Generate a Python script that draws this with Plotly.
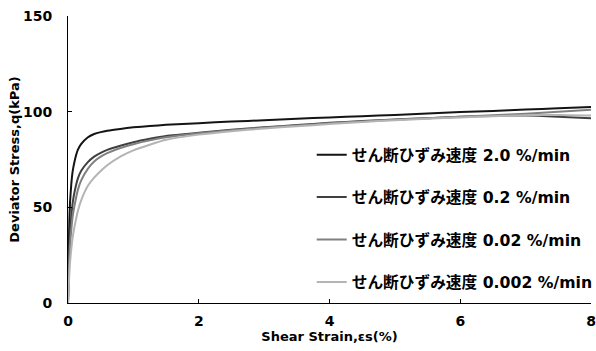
import plotly.graph_objects as go

strain = [0, 0.01, 0.02, 0.03, 0.05, 0.07, 0.1, 0.15, 0.2, 0.3, 0.4, 0.5, 0.6, 0.8, 1.0,
          1.25, 1.5, 2, 2.5, 3, 3.5, 4, 4.5, 5, 5.5, 6, 6.5, 7, 7.5, 8]

q_20 = [0, 25, 42, 52, 62, 68.5, 74, 80, 83, 86.5, 88.3, 89.3, 90, 91, 91.8,
        92.5, 93.1, 94, 94.8, 95.5, 96.3, 97.0, 97.6, 98.3, 99.0, 99.8, 100.4, 101.1, 101.8, 102.5]
q_02 = [0, 15, 28, 37, 45, 52, 58, 65, 69, 73.5, 76.5, 78.5, 80, 82.2, 84,
        85.8, 87.3, 89, 90.5, 91.8, 93, 94.2, 95.1, 95.9, 96.6, 97.3, 97.8, 98.0, 97.4, 96.5]
q_002 = [0, 12, 22, 30, 38, 45, 51, 59, 64, 70, 74, 76.5, 78.3, 81, 83,
         85, 86.6, 88.7, 90.3, 91.6, 92.8, 93.9, 94.9, 95.8, 96.6, 97.4, 98.1, 98.9, 99.9, 101.0]
q_0002 = [0, 8, 15, 21, 28, 34, 40, 48, 53.5, 61, 65.5, 69, 72, 76.5, 79.8,
          82.7, 85.3, 88, 89.8, 91.2, 92.4, 93.5, 94.6, 95.5, 96.3, 97, 97.6, 98.1, 98.3, 98.0]

names = ["せん断ひずみ速度 2.0 %/min", "せん断ひずみ速度 0.2 %/min",
         "せん断ひずみ速度 0.02 %/min", "せん断ひずみ速度 0.002 %/min"]
series = [q_20, q_02, q_002, q_0002]
colors = ["#141414", "#404040", "#808080", "#b4b4b4"]

x_ticks = [0, 2, 4, 6, 8]
y_ticks = [0, 50, 100, 150]

FONT = "DejaVu Sans, Noto Sans CJK JP, sans-serif"

fig = go.Figure()
for i, (nm, ys, c) in enumerate(zip(names, series, colors)):
    fig.add_trace(go.Scatter(x=strain, y=ys, mode="lines", name=nm,
                             legendgroup=str(i),
                             line=dict(color=c, width=2, shape="spline", smoothing=0.5)))

fig.update_layout(
    width=596, height=351,
    margin=dict(l=68, r=5, t=16, b=48, autoexpand=False),
    paper_bgcolor="white", plot_bgcolor="white",
    font=dict(family=FONT, color="black", size=13, weight="bold"),
    showlegend=True,
    legend=dict(x=0.466, y=0.575, xanchor="left", yanchor="top",
                bgcolor="rgba(0,0,0,0)", traceorder="grouped", tracegroupgap=19,
                font=dict(family=FONT, size=15.7, color="black", weight="bold"),
                itemwidth=30),
)
fig.update_xaxes(range=[0, 8], tickvals=x_ticks, ticks="inside", ticklen=4,
                 showline=True, linecolor="black", linewidth=1, showgrid=False,
                 zeroline=False, tickcolor="black", ticklabelstandoff=5,
                 ticklabeloverflow="allow", automargin=False,
                 tickfont=dict(family=FONT, size=14, weight="bold"),
                 title=dict(text="Shear Strain,εs(%)", standoff=0,
                            font=dict(family=FONT, size=13, weight="bold")))
fig.update_yaxes(range=[0, 150], tickvals=y_ticks, ticks="inside", ticklen=4,
                 showline=True, linecolor="black", linewidth=1, showgrid=False,
                 zeroline=False, tickcolor="black", ticklabelstandoff=12,
                 ticklabeloverflow="allow", automargin=False,
                 tickfont=dict(family=FONT, size=14, weight="bold"),
                 title=dict(text="Deviator Stress,q(kPa)", standoff=0,
                            font=dict(family=FONT, size=13, weight="bold")))

fig.write_html("out.html", config={"displayModeBar": False},
               post_script="document.body.style.margin='0';document.body.style.overflow='hidden';")
